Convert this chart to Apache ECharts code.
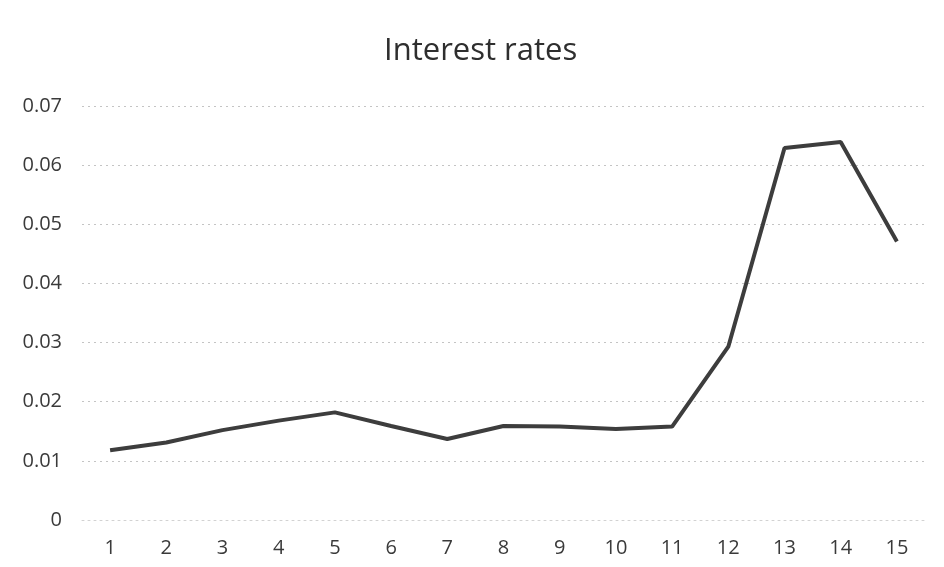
<!DOCTYPE html>
<html>
<head>
<meta charset="utf-8">
<script src="https://cdn.jsdelivr.net/npm/echarts@6/dist/echarts.min.js"></script>
<style>
  html, body { margin: 0; padding: 0; background: #ffffff; }
  #chart { width: 944px; height: 567px; }
</style>
</head>
<body>
<div id="chart"></div>
<script>
// Period numbers along the x axis
const periods = ['1', '2', '3', '4', '5', '6', '7', '8', '9', '10', '11', '12', '13', '14', '15'];
// Interest rate for each period
const rates = [0.0118, 0.0131, 0.0152, 0.0168, 0.0182, 0.0159, 0.0137, 0.0159, 0.0158, 0.0154, 0.0158, 0.0293, 0.0629, 0.0639, 0.0471];
// Value axis range and step
const yMin = 0;
const yMax = 0.07;
const yStep = 0.01;

const chart = echarts.init(document.getElementById('chart'), null, { renderer: 'canvas' });
const labelFont = '"Open Sans", "Noto Sans", sans-serif';

chart.setOption({
  animation: false,
  backgroundColor: '#ffffff',
  title: {
    text: 'Interest rates',
    left: 379,
    top: 31,
    textStyle: {
      fontFamily: labelFont,
      fontSize: 31,
      fontWeight: 'normal',
      color: '#2e2e2e'
    }
  },
  grid: {
    left: 82,
    right: 19,
    top: 106,
    bottom: 47,
    containLabel: false
  },
  xAxis: {
    type: 'category',
    data: periods,
    boundaryGap: true,
    axisLine: {
      show: true,
      lineStyle: { color: '#d2d2d2', width: 1, type: [2, 4] }
    },
    axisTick: { show: false },
    axisLabel: {
      fontFamily: labelFont,
      fontSize: 20,
      color: '#3a3a3a',
      margin: 18
    }
  },
  yAxis: {
    type: 'value',
    min: yMin,
    max: yMax,
    interval: yStep,
    axisLine: { show: false },
    axisTick: { show: false },
    axisLabel: {
      fontFamily: labelFont,
      fontSize: 20,
      color: '#3a3a3a',
      margin: 20,
      formatter: v => (v === 0 ? '0' : v.toFixed(2))
    },
    splitLine: {
      show: true,
      lineStyle: { color: '#c4c4c4', width: 1, type: [2, 4] }
    }
  },
  series: [{
    type: 'line',
    data: rates,
    symbol: 'none',
    smooth: false,
    lineStyle: { color: '#3d3d3d', width: 4 },
    itemStyle: { color: '#3d3d3d' }
  }]
});
</script>
</body>
</html>
